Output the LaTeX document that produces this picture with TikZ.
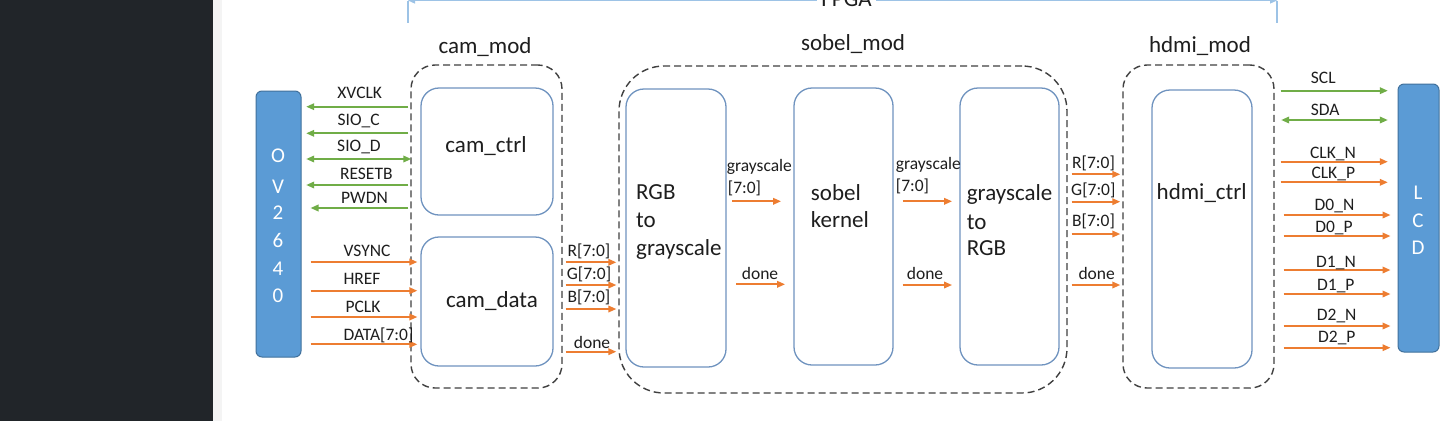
\documentclass[tikz,border=0pt]{standalone}
\usepackage{fontspec}
\setmainfont{Carlito}
\usetikzlibrary{arrows.meta}
\definecolor{orng}{HTML}{ED7D31}
\definecolor{grn}{HTML}{70AD47}
\definecolor{chipfill}{HTML}{5B9BD5}
\definecolor{chipdraw}{HTML}{41719C}
\definecolor{boxline}{HTML}{6F93BF}
\definecolor{dashline}{HTML}{404040}
\definecolor{fpgaline}{HTML}{9DC3E6}
\definecolor{darkbg}{HTML}{212529}
\definecolor{stripbg}{HTML}{F4F4F4}
\definecolor{txt}{HTML}{1E1E1E}
\begin{document}
\begin{tikzpicture}[x=1pt,y=-1pt,
  big/.style={font=\fontsize{23}{28}\selectfont, text=txt, inner sep=0pt, yshift=-5pt},
  small/.style={font=\fontsize{17.5}{21}\selectfont, text=txt, inner sep=0pt, yshift=-3pt},
  chiplet/.style={font=\fontsize{21}{25}\selectfont, text=white, inner sep=0pt, yshift=-5pt},
  chip/.style={draw=chipdraw, fill=chipfill, line width=1pt, rounded corners=6pt, inner sep=0pt},
  blk/.style={draw=boxline, line width=1.3pt, rounded corners=18pt, inner sep=0pt},
  modbox/.style={draw=dashline, line width=1.4pt, dash pattern=on 7pt off 4pt, inner sep=0pt},
  tip/.tip={Triangle[length=8pt,width=6.5pt]},
  sigo/.style={draw=orng, line width=1.8pt, -tip},
  sigg/.style={draw=grn, line width=1.8pt, -tip},
  siggb/.style={draw=grn, line width=1.8pt, tip-tip},
]
\useasboundingbox (0,0) rectangle (1451,421);
\fill[white] (0,0) rectangle (1451,421);
\fill[darkbg] (0,0) rectangle (213,421);
\fill[stripbg] (213,0) rectangle (222,421);

% FPGA span
\coordinate (fpgaL) at (408,0.5);
\coordinate (fpgaR) at (1277,0.5);
\coordinate (fpgaLb) at (408,23);
\coordinate (fpgaRb) at (1277,23);
\draw[fpgaline, line width=1.2pt] (fpgaL) -- (fpgaLb) (fpgaR) -- (fpgaRb);
\draw[fpgaline, line width=1.2pt, {Triangle[length=7pt,width=6pt]}-{Triangle[length=7pt,width=6pt]}] (fpgaL) -- (fpgaR);
\node[big, yshift=5pt, fill=white, inner xsep=4pt, inner ysep=1pt, anchor=base] (fpga) at (846.5,6) {FPGA};

% modules
\node[modbox, rounded corners=24pt, minimum width=151pt, minimum height=323pt] (cammod) at (486.5,226.5) {};
\node[modbox, rounded corners=45pt, minimum width=448pt, minimum height=327pt] (sobelmod) at (843,229.5) {};
\node[modbox, rounded corners=24pt, minimum width=151pt, minimum height=323pt] (hdmimod) at (1198.5,226.5) {};
\node[big, anchor=mid] (cammodl) at (485,46) {cam\_mod};
\node[big, anchor=mid] (sobelmodl) at (853,43) {sobel\_mod};
\node[big, anchor=mid] (hdmimodl) at (1200,45) {hdmi\_mod};

% blocks
\node[blk, minimum width=132pt, minimum height=127pt] (camctrl) at (487,151.5) {};
\node[blk, minimum width=132pt, minimum height=129pt] (camdata) at (487,301.5) {};
\node[blk, minimum width=100pt, minimum height=278pt] (rgb2g) at (676,228) {};
\node[blk, minimum width=99pt, minimum height=277pt] (sobelk) at (843.5,226.5) {};
\node[blk, minimum width=99pt, minimum height=277pt] (g2rgb) at (1009.5,226.5) {};
\node[blk, minimum width=100pt, minimum height=278pt] (hdmictrl) at (1202,229) {};

\node[big, anchor=mid] (camctrlt) at (486,145) {cam\_ctrl};
\node[big, anchor=mid] (camdatat) at (492,300) {cam\_data};
\node[big, anchor=mid west] (rgbt1) at (636,191.7) {RGB};
\node[big, anchor=mid west] (rgbt2) at (636,220) {to};
\node[big, anchor=mid west] (rgbt3) at (636,248.3) {grayscale};
\node[big, anchor=mid west] (sobt1) at (810.7,192.7) {sobel};
\node[big, anchor=mid west] (sobt2) at (810.7,220) {kernel};
\node[big, anchor=mid west] (grt1) at (966.7,193) {grayscale};
\node[big, anchor=mid west] (grt2) at (966.7,221.7) {to};
\node[big, anchor=mid west] (grt3) at (966.7,248.3) {RGB};
\node[big, anchor=mid] (hdmit) at (1201.7,191.7) {hdmi\_ctrl};

% chips
\node[chip, minimum width=45pt, minimum height=266pt] (ov) at (278.5,224) {};
\node[chip, minimum width=41pt, minimum height=268pt] (lcd) at (1418.5,218) {};
\node[chiplet, anchor=mid] (ov1) at (278,155) {O};
\node[chiplet, anchor=mid] (ov2) at (278,186) {V};
\node[chiplet, anchor=mid] (ov3) at (278,212) {2};
\node[chiplet, anchor=mid] (ov4) at (278,240) {6};
\node[chiplet, anchor=mid] (ov5) at (278,268) {4};
\node[chiplet, anchor=mid] (ov6) at (278,295) {0};
\node[chiplet, anchor=mid] (lcd1) at (1418,192) {L};
\node[chiplet, anchor=mid] (lcd2) at (1418,220) {C};
\node[chiplet, anchor=mid] (lcd3) at (1418,247) {D};

% OV2640 <-> cam_mod
\draw[sigg, shorten >=4.7pt, shorten <=2pt] (cammod.west |- 0,106.7) -- (ov.east |- 0,106.7);
\draw[sigg, shorten >=4.7pt, shorten <=2pt] (cammod.west |- 0,133.3) -- (ov.east |- 0,133.3);
\draw[siggb, shorten >=4.7pt, shorten <=-1pt] (cammod.west |- 0,159) -- (ov.east |- 0,159);
\draw[sigg, shorten >=4.7pt, shorten <=2pt] (cammod.west |- 0,185) -- (ov.east |- 0,185);
\draw[sigg, shorten >=9pt, shorten <=2pt] (cammod.west |- 0,208) -- (ov.east |- 0,208);
\node[small, anchor=mid] (lxv) at (359.7,93) {XVCLK};
\node[small, anchor=mid] (lsc) at (358.7,120) {SIO\_C};
\node[small, anchor=mid] (lsd) at (359,146) {SIO\_D};
\node[small, anchor=mid] (lrs) at (366.3,174) {RESETB};
\node[small, anchor=mid] (lpw) at (364.5,198.5) {PWDN};

\draw[sigo, shorten <=9pt, shorten >=3pt] (ov.east |- 0,262) -- (camdata.west |- 0,262);
\draw[sigo, shorten <=9pt, shorten >=3pt] (ov.east |- 0,290.7) -- (camdata.west |- 0,290.7);
\draw[sigo, shorten <=9pt, shorten >=3pt] (ov.east |- 0,317) -- (camdata.west |- 0,317);
\draw[sigo, shorten <=9pt, shorten >=3pt] (ov.east |- 0,344.3) -- (camdata.west |- 0,344.3);
\node[small, anchor=mid] (lvs) at (367,250.7) {VSYNC};
\node[small, anchor=mid] (lhr) at (362,279) {HREF};
\node[small, anchor=mid] (lpc) at (363,306.7) {PCLK};
\node[small, anchor=mid] (lda) at (378.5,335) {DATA[7:0]};

% cam_mod -> sobel_mod
\draw[sigo, shorten <=3pt, shorten >=9pt] (cammod.east |- 0,262.3) -- (rgb2g.west |- 0,262.3);
\draw[sigo, shorten <=3pt, shorten >=9pt] (cammod.east |- 0,285) -- (rgb2g.west |- 0,285);
\draw[sigo, shorten <=3pt, shorten >=9pt] (cammod.east |- 0,309) -- (rgb2g.west |- 0,309);
\draw[sigo, shorten <=3pt, shorten >=9pt] (cammod.east |- 0,351.7) -- (rgb2g.west |- 0,351.7);
\node[small, anchor=mid] (lr1) at (589,250.7) {R[7:0]};
\node[small, anchor=mid] (lg1) at (589,274) {G[7:0]};
\node[small, anchor=mid] (lb1) at (589,296.7) {B[7:0]};
\node[small, anchor=mid] (ld1) at (592,343) {done};

% inside sobel_mod
\draw[sigo, shorten <=5.7pt, shorten >=12.3pt] (rgb2g.east |- 0,201.3) -- (sobelk.west |- 0,201.3);
\draw[sigo, shorten <=9.7pt, shorten >=8.3pt] (rgb2g.east |- 0,284.3) -- (sobelk.west |- 0,284.3);
\draw[sigo, shorten <=9.3pt, shorten >=7.3pt] (sobelk.east |- 0,201.3) -- (g2rgb.west |- 0,201.3);
\draw[sigo, shorten <=9pt, shorten >=7.3pt] (sobelk.east |- 0,285) -- (g2rgb.west |- 0,285);
\node[small, anchor=mid west] (lgs1) at (726.7,166) {grayscale};
\node[small, anchor=mid west] (lgs1b) at (727.7,188.3) {[7:0]};
\node[small, anchor=mid] (ld2) at (760,274) {done};
\node[small, anchor=mid west] (lgs2) at (895.7,164) {grayscale};
\node[small, anchor=mid west] (lgs2b) at (895.7,185.7) {[7:0]};
\node[small, anchor=mid] (ld3) at (925,274) {done};

% sobel_mod -> hdmi_mod
\draw[sigo, shorten <=4pt, shorten >=2pt] (sobelmod.east |- 0,174.3) -- (hdmimod.west |- 0,174.3);
\draw[sigo, shorten <=4pt, shorten >=2pt] (sobelmod.east |- 0,201.7) -- (hdmimod.west |- 0,201.7);
\draw[sigo, shorten <=4pt, shorten >=2pt] (sobelmod.east |- 0,234) -- (hdmimod.west |- 0,234);
\draw[sigo, shorten <=4pt, shorten >=2pt] (sobelmod.east |- 0,285) -- (hdmimod.west |- 0,285);
\node[small, anchor=mid west] (lr2) at (1072,163.3) {R[7:0]};
\node[small, anchor=mid west] (lg2) at (1071,190) {G[7:0]};
\node[small, anchor=mid west] (lb2) at (1072,220.7) {B[7:0]};
\node[small, anchor=mid] (ld4) at (1096.7,274) {done};

% hdmi_mod -> LCD
\draw[sigg, shorten <=6pt, shorten >=9.7pt] (hdmimod.east |- 0,90.7) -- (lcd.west |- 0,90.7);
\draw[siggb, shorten <=6.5pt, shorten >=9.7pt] (hdmimod.east |- 0,120) -- (lcd.west |- 0,120);
\draw[sigo, shorten <=6pt, shorten >=9.7pt] (hdmimod.east |- 0,161.7) -- (lcd.west |- 0,161.7);
\draw[sigo, shorten <=6pt, shorten >=9.7pt] (hdmimod.east |- 0,182.3) -- (lcd.west |- 0,182.3);
\draw[sigo, shorten <=9pt, shorten >=7pt] (hdmimod.east |- 0,215) -- (lcd.west |- 0,215);
\draw[sigo, shorten <=9pt, shorten >=7pt] (hdmimod.east |- 0,236) -- (lcd.west |- 0,236);
\draw[sigo, shorten <=9pt, shorten >=7pt] (hdmimod.east |- 0,270) -- (lcd.west |- 0,270);
\draw[sigo, shorten <=9pt, shorten >=7pt] (hdmimod.east |- 0,294) -- (lcd.west |- 0,294);
\draw[sigo, shorten <=9pt, shorten >=7pt] (hdmimod.east |- 0,326) -- (lcd.west |- 0,326);
\draw[sigo, shorten <=9pt, shorten >=7pt] (hdmimod.east |- 0,347.7) -- (lcd.west |- 0,347.7);
\node[small, anchor=mid west] (lscl) at (1310.7,78.3) {SCL};
\node[small, anchor=mid west] (lsda) at (1310.7,110) {SDA};
\node[small, anchor=mid] (lcn) at (1333,152.7) {CLK\_N};
\node[small, anchor=mid] (lcp) at (1333.3,173.3) {CLK\_P};
\node[small, anchor=mid] (l0n) at (1334.5,205) {D0\_N};
\node[small, anchor=mid] (l0p) at (1334,226.7) {D0\_P};
\node[small, anchor=mid] (l1n) at (1336,261.7) {D1\_N};
\node[small, anchor=mid] (l1p) at (1335.8,285) {D1\_P};
\node[small, anchor=mid] (l2n) at (1336.7,315) {D2\_N};
\node[small, anchor=mid] (l2p) at (1336.8,336.7) {D2\_P};
\end{tikzpicture}
\end{document}
